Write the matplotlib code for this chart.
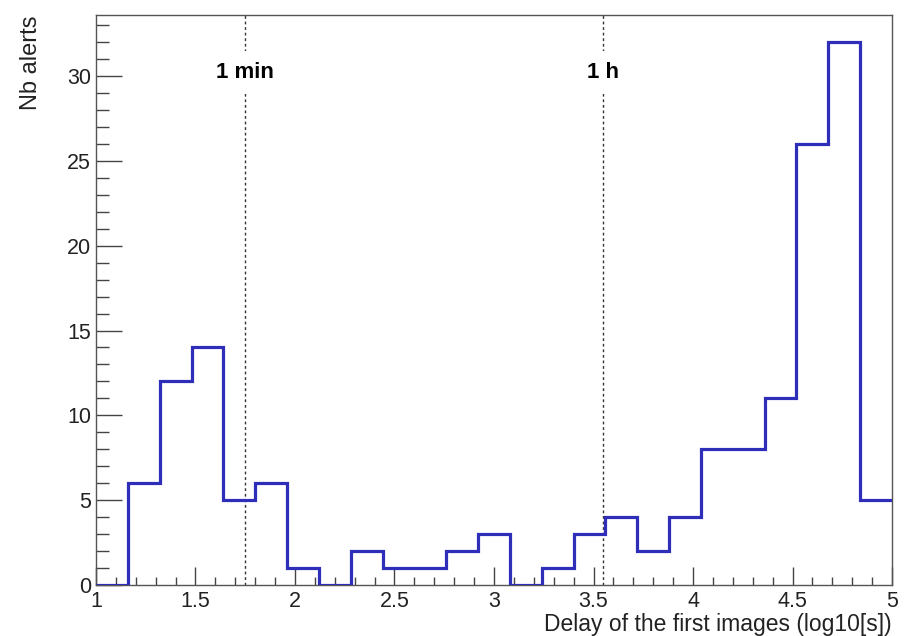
import numpy as np
import matplotlib
matplotlib.use("Agg")
import matplotlib.pyplot as plt
from matplotlib.ticker import MultipleLocator

plt.rcParams['font.family'] = ['Liberation Sans', 'DejaVu Sans']

# histogram of log10(delay) : 25 bins between 1 and 5
x_min, x_max, n_bins = 1.0, 5.0, 25
counts = [0, 6, 12, 14, 5, 6, 1, 0, 2, 1, 1, 2, 3, 0, 1, 3, 4, 2, 4, 8, 8, 11, 26, 32, 5]
edges = np.linspace(x_min, x_max, n_bins + 1)

# reference markers
marker_pos = [1.75, 3.55]
marker_txt = ['1 min', '1 h']

fig = plt.figure(figsize=(9.08, 6.36), dpi=100)
ax = fig.add_axes([0.1057, 0.0802, 0.8767, 0.8962])

ax.stairs(counts, edges, baseline=None, color='#2e2eb8', linewidth=2.3, zorder=3)

ymax = max(counts) * 1.05
for xp, txt in zip(marker_pos, marker_txt):
    ax.axvline(xp, color='#333333', linestyle=(0, (2, 2)), linewidth=1.0, zorder=2)
    ax.text(xp, 30.2, txt, ha='center', va='center', fontsize=16, fontweight='bold',
            bbox=dict(facecolor='white', edgecolor='none', pad=8), zorder=4)

ax.set_xlim(x_min, x_max)
ax.set_ylim(0, ymax)

ax.xaxis.set_major_locator(MultipleLocator(0.5))
ax.xaxis.set_minor_locator(MultipleLocator(0.1))
ax.yaxis.set_major_locator(MultipleLocator(5))
ax.yaxis.set_minor_locator(MultipleLocator(1))
ax.xaxis.set_major_formatter(plt.FuncFormatter(lambda v, p: f"{v:g}"))

ax.tick_params(axis='both', which='both', direction='in', colors='#444444',
               labelcolor='#222222', labelsize=15.5, top=False, right=False)
ax.tick_params(axis='x', which='major', length=13, width=1, pad=4)
ax.tick_params(axis='x', which='minor', length=6, width=1)
ax.tick_params(axis='y', which='major', length=18.5, width=1, pad=3.5)
ax.tick_params(axis='y', which='minor', length=9, width=1)

for s in ax.spines.values():
    s.set_color('#555555')
    s.set_linewidth(1.0)

ax.set_xlabel('Delay of the first images (log10[s])', fontsize=16.5, color='#222222')
ax.xaxis.set_label_coords(1.0, -0.05)
ax.xaxis.label.set_horizontalalignment('right')
ax.set_ylabel('Nb alerts', fontsize=17, color='#222222')
ax.yaxis.set_label_coords(-0.068, 1.0)
ax.yaxis.label.set_horizontalalignment('right')

fig.savefig('out.png', dpi=100)
